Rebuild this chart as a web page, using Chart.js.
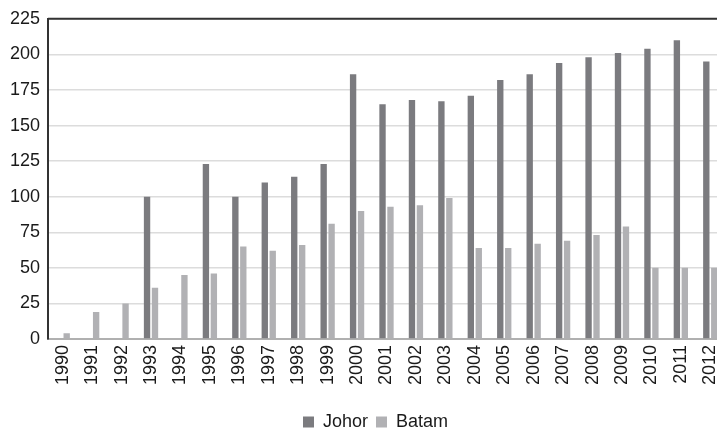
<!DOCTYPE html>
<html>
<head>
<meta charset="utf-8">
<script src="https://cdn.jsdelivr.net/npm/chart.js@4/dist/chart.umd.min.js"></script>
<style>
  html, body { margin: 0; padding: 0; background: #fff; overflow: hidden; }
  #wrap { width: 748px; height: 429px; }
</style>
</head>
<body>
<div id="wrap"><canvas id="chart"></canvas></div>
<script>
const years = ['1990', '1991', '1992', '1993', '1994', '1995', '1996', '1997', '1998', '1999', '2000', '2001',
  '2002', '2003', '2004', '2005', '2006', '2007', '2008', '2009', '2010', '2011', '2012'];
const johor = [0, 0, 0, 100, 0, 123, 100, 110, 114, 123, 186, 165, 168, 167, 171, 182, 186, 194, 198, 201, 204, 210, 195];
const batam = [4, 19, 25, 36, 45, 46, 65, 62, 66, 81, 90, 93, 94, 99, 64, 64, 67, 69, 73, 79, 50, 50, 50];

const font = { family: '"Liberation Sans", Arial, sans-serif', size: 18 };
const PLOT_BOTTOM = 339;

// linea nera sopra l'area + legenda spostata come nell'originale
const frame = {
  id: 'frame',
  afterLayout(chart) {
    const lg = chart.legend;
    lg.left += 13; lg.right += 13;
    lg.top += 12; lg.bottom += 12;
  },
  afterDraw(chart) {
    const { ctx, chartArea } = chart;
    ctx.save();
    ctx.strokeStyle = '#333';
    ctx.lineWidth = 2;
    ctx.beginPath();
    ctx.moveTo(chartArea.left, chartArea.top);
    ctx.lineTo(chartArea.right, chartArea.top);
    ctx.stroke();
    ctx.restore();
  }
};

new Chart(document.getElementById('chart'), {
  type: 'bar',
  data: {
    labels: years,
    datasets: [
      { label: 'Johor', data: johor, backgroundColor: '#7b7b7f' },
      { label: 'Batam', data: batam, backgroundColor: '#b1b1b4' }
    ]
  },
  options: {
    responsive: true,
    maintainAspectRatio: false,
    animation: false,
    categoryPercentage: 0.54,
    barPercentage: 0.8,
    layout: { padding: { top: 17, left: 0, right: 23, bottom: 0 } },
    plugins: {
      tooltip: { enabled: false },
      legend: {
        position: 'bottom',
        labels: { font: font, color: '#1a1a1a', boxWidth: 11, boxHeight: 11, padding: 8 }
      }
    },
    scales: {
      x: {
        grid: { display: false, drawTicks: false },
        border: { color: '#b0b0b0', width: 2 },
        ticks: { font: font, color: '#1a1a1a', minRotation: 90, maxRotation: 90, padding: 6 },
        afterFit(scale) {
          const lh = scale.chart.legend ? scale.chart.legend.height : 38;
          scale.height = scale.chart.height - PLOT_BOTTOM - lh;
        }
      },
      y: {
        min: 0,
        max: 225,
        grid: { color: '#dcdcdc', lineWidth: 1.5, drawTicks: false },
        border: { color: '#333', width: 2 },
        ticks: { stepSize: 25, font: font, color: '#1a1a1a', padding: 8 },
        afterFit(scale) { scale.width = 48; }
      }
    }
  },
  plugins: [frame]
});
</script>
</body>
</html>
